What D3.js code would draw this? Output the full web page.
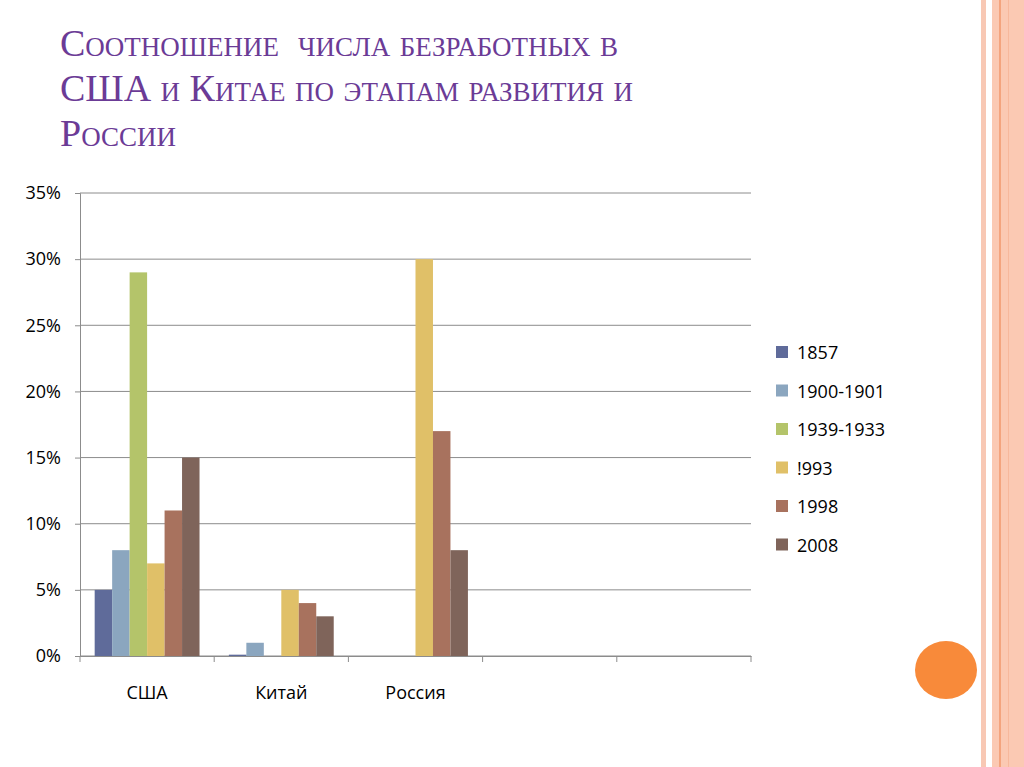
<!DOCTYPE html>
<html lang="ru">
<head>
<meta charset="UTF-8">
<script src="https://d3js.org/d3.v7.min.js"></script>
<style>
  body { margin: 0; background: #fff; }
  svg { display: block; }
</style>
</head>
<body>
<script>
  const categories = ['США', 'Китай', 'Россия', '', ''];
  const seriesNames = ['1857', '1900-1901', '1939-1933', '!993', '1998', '2008'];
  const colours = ['#5f6b9a', '#8ba6bf', '#b4c46a', '#e0c068', '#a8725e', '#7f645a'];
  // values in %, one array per series (США, Китай, Россия, -, -)
  const s1857 = [5, 0.1, 0, 0, 0];
  const s1900 = [8, 1, 0, 0, 0];
  const s1939 = [29, 0, 0, 0, 0];
  const s1993 = [7, 5, 30, 0, 0];
  const s1998 = [11, 4, 17, 0, 0];
  const s2008 = [15, 3, 8, 0, 0];
  const series = [s1857, s1900, s1939, s1993, s1998, s2008];
  const yTicks = [0, 5, 10, 15, 20, 25, 30, 35];

  const svg = d3.select('body').append('svg').attr('width', 1024).attr('height', 767);

  // decorative right border
  svg.append('rect').attr('x', 981).attr('y', 0).attr('width', 5).attr('height', 767).attr('fill', '#f8c8b4');
  svg.append('rect').attr('x', 992).attr('y', 0).attr('width', 32).attr('height', 767).attr('fill', '#fbc9b3');
  svg.append('rect').attr('x', 999).attr('y', 0).attr('width', 2).attr('height', 767).attr('fill', '#f4a47e');
  svg.append('rect').attr('x', 1008).attr('y', 0).attr('width', 1).attr('height', 767).attr('fill', '#f7b89c');
  svg.append('ellipse').attr('cx', 946).attr('cy', 670).attr('rx', 31).attr('ry', 29).attr('fill', '#f88a3a');

  // title
  const title = svg.append('text').attr('font-family', 'Liberation Serif, serif')
    .attr('font-size', 38).attr('fill', '#6b3b96').style('font-variant', 'small-caps');
  ['Соотношение  числа безработных в', 'США и Китае по этапам развития и', 'России']
    .forEach((t, i) => title.append('tspan').attr('x', 60).attr('y', 56 + i * 45).attr('xml:space', 'preserve').text(t));

  const plotL = 80, plotR = 751, plotT = 193, plotB = 656;
  const x = d3.scaleBand().domain(d3.range(categories.length)).range([plotL, plotR]);
  const xi = d3.scaleBand().domain(d3.range(series.length)).range([0, x.bandwidth()]).paddingOuter(0.84);
  const y = d3.scaleLinear().domain([0, 35]).range([plotB, plotT]);

  // grid
  svg.append('g').selectAll('line').data(yTicks).join('line')
    .attr('x1', plotL).attr('x2', plotR).attr('y1', d => y(d)).attr('y2', d => y(d))
    .attr('stroke', '#8c8c8c').attr('stroke-width', 1);

  const yAxis = svg.append('g').attr('transform', `translate(${plotL},0)`)
    .call(d3.axisLeft(y).tickValues(yTicks).tickFormat(d => d + '%').tickSize(5).tickPadding(14));
  yAxis.select('.domain').attr('stroke', '#8c8c8c');
  yAxis.selectAll('line').attr('stroke', '#8c8c8c');
  yAxis.selectAll('text').attr('font-family', 'Open Sans, sans-serif').attr('font-size', 18).attr('fill', '#000');

  // bars
  series.forEach((vals, si) => {
    svg.append('g').selectAll('rect').data(vals).join('rect')
      .attr('x', (d, ci) => x(ci) + xi(si))
      .attr('width', xi.bandwidth())
      .attr('y', d => y(d))
      .attr('height', d => plotB - y(d))
      .attr('fill', colours[si]);
  });

  const xAxis = svg.append('g').attr('transform', `translate(0,${plotB})`)
    .call(d3.axisBottom(x).tickSize(0).tickPadding(30).tickFormat(i => categories[i]));
  xAxis.select('.domain').attr('stroke', '#8c8c8c');
  xAxis.selectAll('text').attr('font-family', 'Open Sans, sans-serif').attr('font-size', 18).attr('fill', '#000');
  svg.append('g').selectAll('line').data(d3.range(categories.length + 1)).join('line')
    .attr('x1', i => plotL + i * x.step()).attr('x2', i => plotL + i * x.step())
    .attr('y1', plotB).attr('y2', plotB + 6).attr('stroke', '#8c8c8c');

  // legend
  const lg = svg.append('g').selectAll('g').data(seriesNames).join('g')
    .attr('transform', (d, i) => `translate(776,${352 + i * 38.5})`);
  lg.append('rect').attr('x', 0).attr('y', -6).attr('width', 12).attr('height', 12).attr('fill', (d, i) => colours[i]);
  lg.append('text').attr('x', 21).attr('y', 7).attr('font-family', 'Open Sans, sans-serif')
    .attr('font-size', 18).attr('fill', '#000').text(d => d);
</script>
</body>
</html>
